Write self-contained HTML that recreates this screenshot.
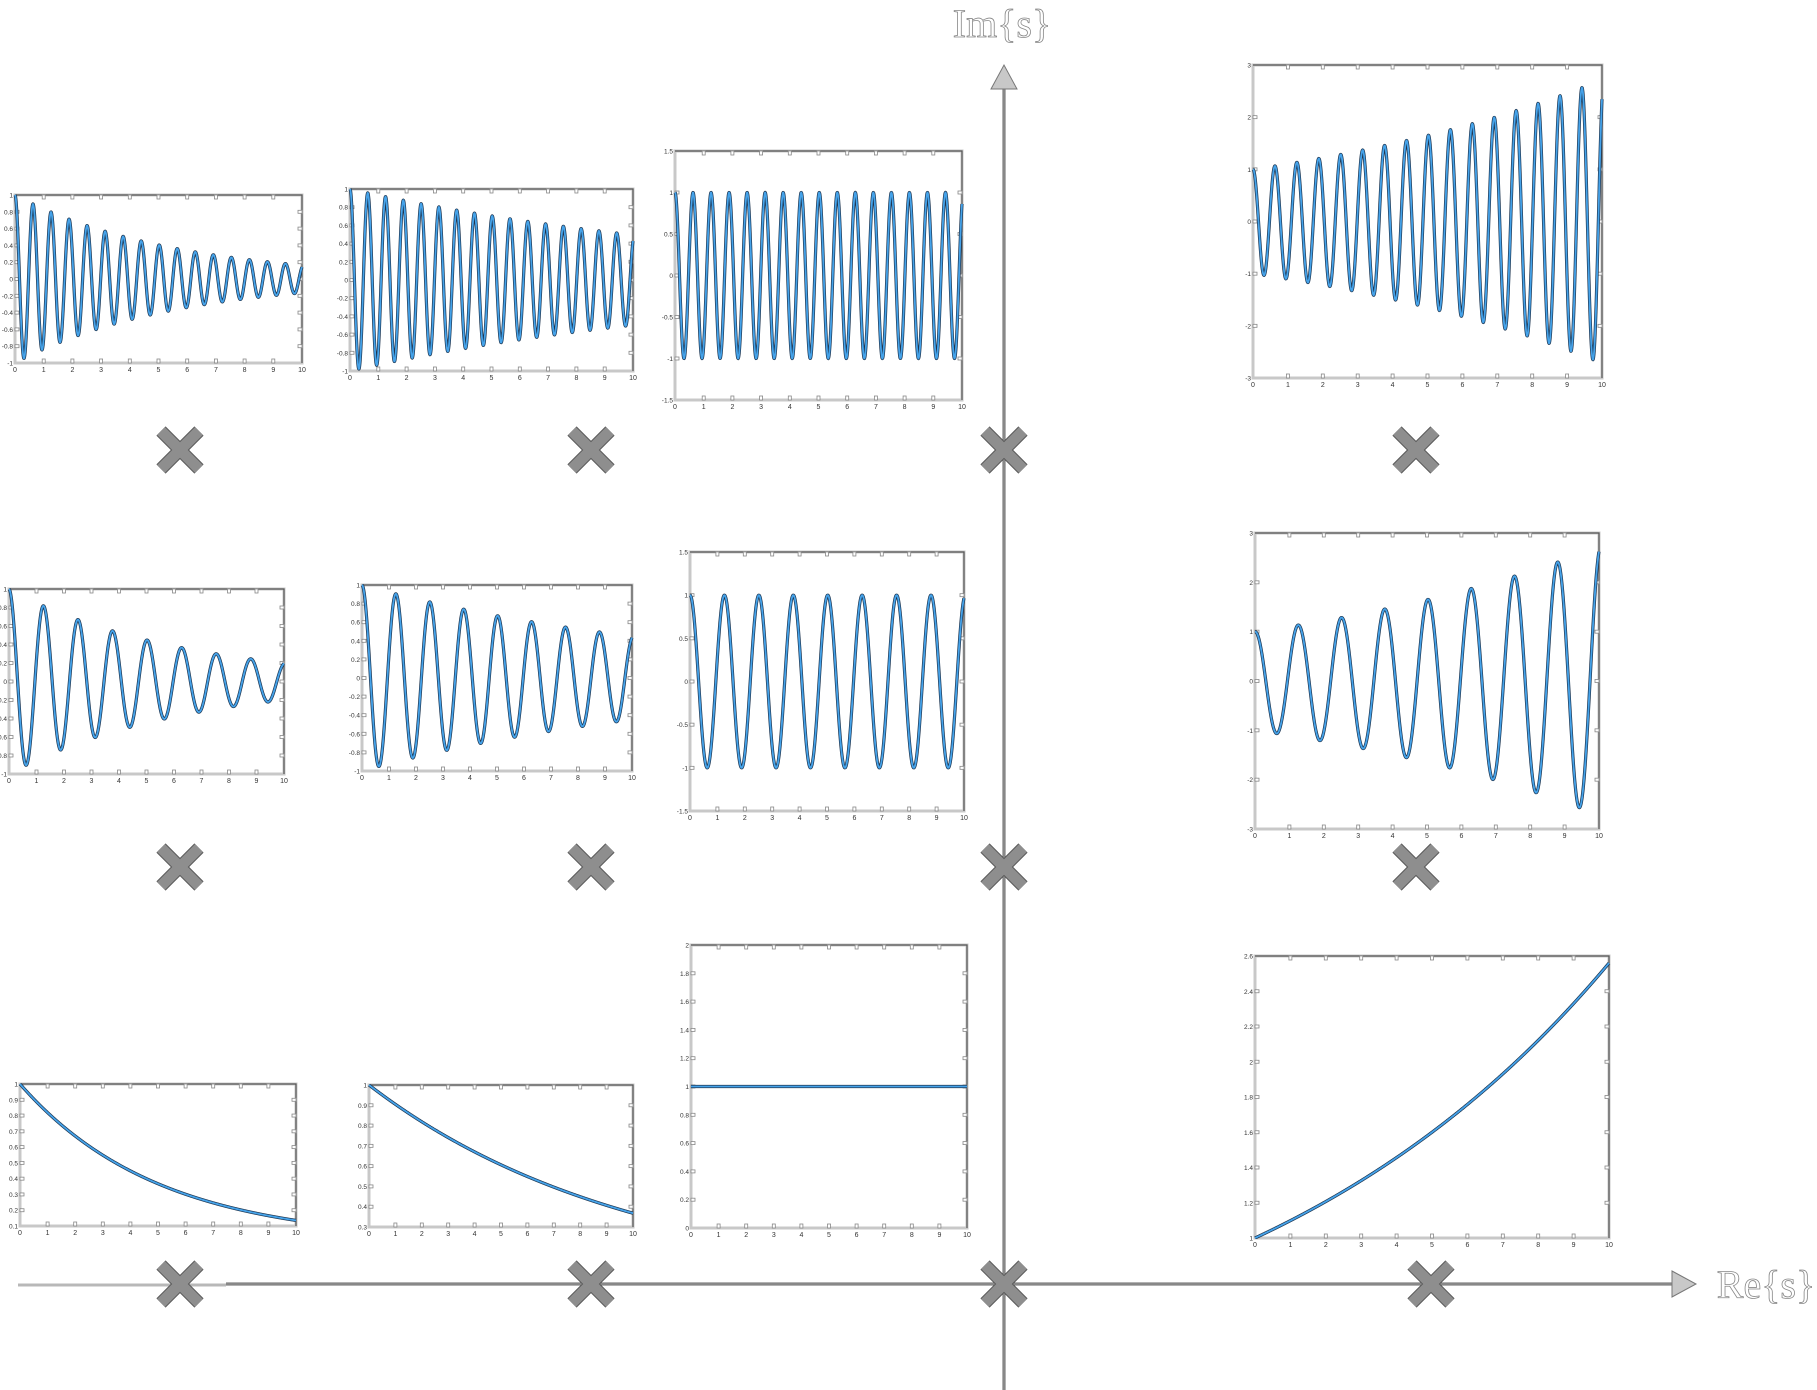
<!DOCTYPE html>
<html><head><meta charset="utf-8"><style>
html,body{margin:0;padding:0;background:#fff;}
svg{display:block;}
</style></head><body>
<svg id="root" width="1817" height="1390" viewBox="0 0 1817 1390" xmlns="http://www.w3.org/2000/svg">
<defs id="defs"></defs>
<g id="axes">
  <line x1="18" y1="1285" x2="226" y2="1285" stroke="#b8b8b8" stroke-width="3"/>
  <line x1="226" y1="1284" x2="1680" y2="1284" stroke="#666" stroke-width="3"/>
  <line x1="226" y1="1284" x2="1680" y2="1284" stroke="#aaa" stroke-width="1"/>
  <polygon points="1672,1271 1696,1284 1672,1297" fill="#c8c8c8" stroke="#777" stroke-width="1"/>
  <line x1="1004" y1="80" x2="1004" y2="1390" stroke="#666" stroke-width="3"/>
  <line x1="1004" y1="80" x2="1004" y2="1390" stroke="#aaa" stroke-width="1"/>
  <polygon points="991,89 1004,65 1017,89" fill="#c8c8c8" stroke="#777" stroke-width="1"/>
  <text x="1002" y="37" text-anchor="middle" font-family="Liberation Serif, serif" font-size="40" fill="#fff" stroke="#888" stroke-width="0.8">Im{s}</text>
  <text x="1766" y="1298" text-anchor="middle" font-family="Liberation Serif, serif" font-size="40" fill="#fff" stroke="#888" stroke-width="0.8">Re{s}</text>
</g>
<g id="plots"></g>
<g id="poles"></g>
</svg>
<script>
// pole locations (sigma = decay/growth rate, omega = angular frequency)
const plotNames = ['p1','p2','p3','p4','p5','p6','p7','p8','p9','p10','p11','p12'];
const sigmas = [-0.18,-0.07,0,0.1,-0.16,-0.08,0,0.1,-0.2,-0.1,0,0.094];
const omegas = [10,10,10,10,5,5,5,5,0,0,0,0];
const yMins = [-1,-1,-1.5,-3,-1,-1,-1.5,-3,0.1,0.3,0,1];
const yMaxs = [1,1,1.5,3,1,1,1.5,3,1,1,2,2.6];
const yTickSteps = [0.2,0.2,0.5,1,0.2,0.2,0.5,1,0.1,0.1,0.2,0.2];
const xTicks = [0,1,2,3,4,5,6,7,8,9,10];
const poleCols = [0,1,2,3,0,1,2,3,0,1,2,3];
const poleRows = [2,2,2,2,1,1,1,1,0,0,0,0];

const boxes = [
 [15,195,302,363],[350,189,633,371],[675,151,962,400],[1253,65,1602,378],
 [9,589,284,774],[362,585,632,771],[690,552,964,811],[1255,533,1599,829],
 [20,1084,296,1226],[369,1085,633,1227],[691,945,967,1228],[1255,956,1609,1238]
];
const colX = [180,591,1004,1416];
const rowY = [1284,867,450];

const NS='http://www.w3.org/2000/svg';
function mk(tag,attrs,parent){const e=document.createElementNS(NS,tag);for(const k in attrs)e.setAttribute(k,attrs[k]);parent.appendChild(e);return e;}
function fmt(v){return (Math.round(v*10)/10).toString();}

const defs=document.getElementById('defs');
const plotsG=document.getElementById('plots');
plotNames.forEach((nm,i)=>{
  const [x0,y0,x1,y1]=boxes[i];
  const xs=t=>x0+(t-0)/(10-0)*(x1-x0);
  const ys=v=>y1-(v-yMins[i])/(yMaxs[i]-yMins[i])*(y1-y0);
  const cp=mk('clipPath',{id:'clip'+i},defs);
  mk('rect',{x:x0-2,y:y0-1,width:x1-x0+4,height:y1-y0+2},cp);
  const g=mk('g',{},plotsG);
  
  
  const bg=mk('rect',{x:x0,y:y0,width:x1-x0,height:y1-y0,fill:'#fff',stroke:'#c8c8c8','stroke-width':3},g);
  
  
  const tr=mk('path',{d:`M${x0} ${y0}H${x1}V${y1}`,fill:'none',stroke:'#555','stroke-width':1.2},g);
  
  
  xTicks.forEach(t=>{
    const x=xs(t);
    if(t>0&&t<10){
      mk('rect',{x:x-1.5,y:y0,width:3,height:4,fill:'#fff',stroke:'#888','stroke-width':0.8},g);
      mk('rect',{x:x-1.5,y:y1-4,width:3,height:4,fill:'#fff',stroke:'#888','stroke-width':0.8},g);
    }
    const tl=mk('text',{x:x,y:y1+9,'text-anchor':'middle','font-family':'Liberation Sans, sans-serif','font-size':7,fill:'#333'},g);
    tl.textContent=t;
    
    
  });
  const n=Math.round((yMaxs[i]-yMins[i])/yTickSteps[i]);
  for(let k=0;k<=n;k++){
    const v=yMins[i]+k*yTickSteps[i];const y=ys(v);
    if(k>0&&k<n){
      mk('rect',{x:x0,y:y-1.5,width:4,height:3,fill:'#fff',stroke:'#888','stroke-width':0.8},g);
      mk('rect',{x:x1-4,y:y-1.5,width:4,height:3,fill:'#fff',stroke:'#888','stroke-width':0.8},g);
    }
    const yl=mk('text',{x:x0-2,y:y+2.5,'text-anchor':'end','font-family':'Liberation Sans, sans-serif','font-size':6.5,fill:'#333'},g);
    yl.textContent=fmt(v);
    
    
  }
  let d='';const N=1200;
  for(let k=0;k<=N;k++){
    const t=10*k/N;
    const v=Math.exp(sigmas[i]*t)*Math.cos(omegas[i]*t);
    d+=(k?'L':'M')+xs(t).toFixed(2)+' '+ys(v).toFixed(2);
  }
  const cg=mk('g',{'clip-path':'url(#clip'+i+')'},g);
  const c1=mk('path',{d:d,fill:'none',stroke:'#1d3550','stroke-width':3.2,'stroke-linejoin':'round'},cg);
  
  
  const c2=mk('path',{d:d,fill:'none',stroke:'#45a3ea','stroke-width':1.8,'stroke-linejoin':'round'},cg);
  
  
});

const polesG=document.getElementById('poles');
plotNames.forEach((nm,i)=>{
  let cx=colX[poleCols[i]];
  if(poleRows[i]===0&&poleCols[i]===3) cx=1431;
  const cy=rowY[poleRows[i]];
  const g=mk('g',{},polesG);
  
  
  const s=19;
  const d=`M${cx-s} ${cy-s}L${cx+s} ${cy+s}M${cx+s} ${cy-s}L${cx-s} ${cy+s}`;
  mk('path',{d:d,stroke:'#5a5a5a','stroke-width':13,'stroke-linecap':'butt'},g);
  mk('path',{d:d,stroke:'#8e8e8e','stroke-width':11,'stroke-linecap':'butt'},g);
});
</script>
</body></html>
